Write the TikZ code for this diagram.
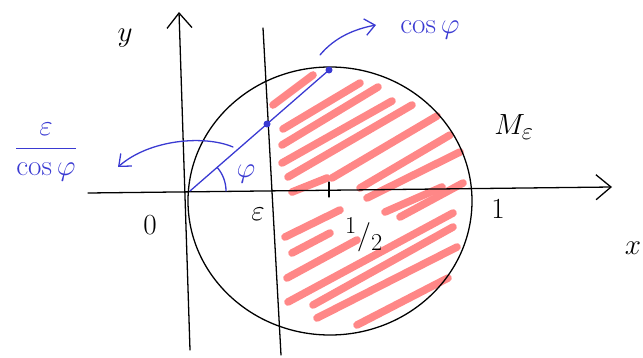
\documentclass[tikz,border=0pt]{standalone}
\usetikzlibrary{arrows.meta}
\definecolor{hatch}{HTML}{FF8787}
\definecolor{pen}{HTML}{3A3AD2}
\begin{document}
\begin{tikzpicture}[>={Straight Barb[length=4.5mm,width=7.5mm]},line join=round,line cap=round,font=\Huge,x=.03cm,y=.03cm]
	\useasboundingbox (0,0) rectangle (643,357);
	% hatching of M_eps
	\foreach \a/\b/\c/\d in {273/252/313/282,283/228/360/274,282/212/378/270,282/194/392/256,
		288/180/412/252,292/165/327/179,332/179/437/241,360/169/450/222,367/159/460/205,
		385/145/442/170,400/140/463/174,285/120/340/147,292/104/330/124,287/79/357/117,
		288/55/453/144,313/52/453/130,317/39/457/110,357/32/448/79}
		\draw[hatch,line width=6.5pt] (\a,\b)--(\c,\d);
	\coordinate (O) at (190,166);
	\coordinate (P) at (329,287);
	\coordinate (Q) at (267,233);
	\coordinate (xa) at (88,164);
	\coordinate (xb) at (612,170);
	\coordinate (ya) at (190,7);
	\coordinate (yb) at (179,345);
	\coordinate (ea) at (263,329);
	\coordinate (eb) at (281,2);
	\draw[line width=1.1pt,->] (xa)--(xb);
	\draw[line width=1.1pt,->] (ya)--(yb);
	\draw[line width=1.1pt] (ea)--(eb);
	\draw[line width=1.1pt] (329,160)--(329,175);
	\draw[line width=1.1pt] (330,156) circle [x radius=4.26cm,y radius=4.02cm];
	% ray at angle phi
	\draw[pen,line width=1.1pt] (O)--(P);
	\fill[pen] (Q) circle (.105cm);
	\fill[pen] (P) circle (.105cm);
	\draw[pen,line width=1.1pt] (O) ++(36,0) arc [start angle=0,end angle=41,radius=1.08cm];
	\coordinate (A0) at (233,210);
	\coordinate (A1) at (118,190);
	\coordinate (B0) at (320,302);
	\coordinate (B1) at (376,332);
	\draw[pen,line width=1.1pt,-{Straight Barb[length=3mm,width=5mm]}] (A0) .. controls (205,222) and (150,218) .. (A1);
	\draw[pen,line width=1.1pt,-{Straight Barb[length=3mm,width=5mm]}] (B0) .. controls (335,320) and (355,328) .. (B1);
	% labels
	\node[pen] (frac) at (46,205) {$\displaystyle\frac{\varepsilon}{\cos\varphi}$};
	\node[pen] (phi) at (246,183) {$\varphi$};
	\node[pen] (cosphi) at (430,327) {$\cos\varphi$};
	\node (Meps) at (514,230) {$M_\varepsilon$};
	\node (ylab) at (125,319) {$y$};
	\node (xlab) at (633,109) {$x$};
	\node (zero) at (150,132) {$0$};
	\node (eps) at (258,143) {$\varepsilon$};
	\node (half) at (364,122) {$^1/_2$};
	\node (one) at (498,148) {$1$};
\end{tikzpicture}
\end{document}
